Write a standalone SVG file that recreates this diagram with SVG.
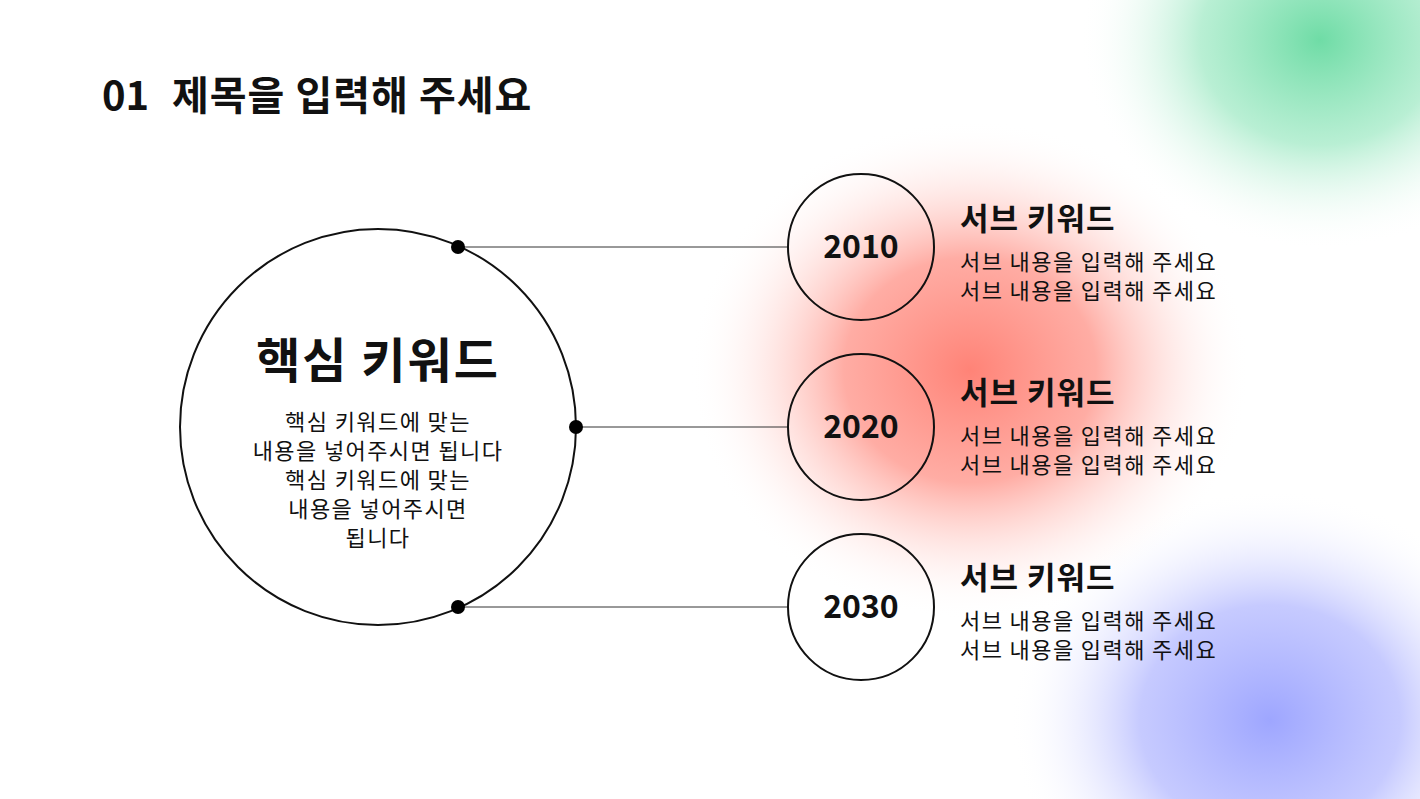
<svg xmlns="http://www.w3.org/2000/svg" width="1420" height="799" viewBox="0 0 1420 799">
<defs>
<radialGradient id="gG"><stop offset="0" stop-color="#6fdca6"/><stop offset="0.5" stop-color="#a7ebc9" stop-opacity="0.8"/><stop offset="1" stop-color="#fff" stop-opacity="0"/></radialGradient>
<radialGradient id="gR"><stop offset="0" stop-color="#ff8377"/><stop offset="0.45" stop-color="#ff9e94" stop-opacity="0.85"/><stop offset="1" stop-color="#fff" stop-opacity="0"/></radialGradient>
<radialGradient id="gB"><stop offset="0" stop-color="#9ea6ff"/><stop offset="0.5" stop-color="#b8bdff" stop-opacity="0.8"/><stop offset="1" stop-color="#fff" stop-opacity="0"/></radialGradient>
<style>
text{font-family:"Noto Sans CJK KR","Noto Sans",sans-serif;fill:#111}
.ring{fill:none;stroke:#111;stroke-width:2}
.yr{font-size:32px;font-weight:700;text-anchor:middle}
.sub{font-size:31px;font-weight:700;letter-spacing:1px}
.desc{font-size:22px;letter-spacing:1.4px}
.line{stroke:#333;stroke-width:1}
</style>
</defs>
<rect width="1420" height="799" fill="#fff"/>
<ellipse cx="1320" cy="40" rx="240" ry="210" fill="url(#gG)"/>
<ellipse cx="1270" cy="720" rx="260" ry="230" fill="url(#gB)"/>
<ellipse cx="970" cy="370" rx="280" ry="250" fill="url(#gR)"/>
<text x="102" y="110" style="font-size:40px;font-weight:700">01</text>
<text x="172" y="110" style="font-size:40px;font-weight:700;letter-spacing:1px">제목을 입력해 주세요</text>
<g id="connectors">
<line class="line" x1="458" y1="247" x2="788" y2="247"/>
<line class="line" x1="576" y1="427" x2="788" y2="427"/>
<line class="line" x1="458" y1="607" x2="788" y2="607"/>
</g>
<g id="main">
<circle class="ring" cx="378" cy="427" r="198"/>
<text x="378" y="378" text-anchor="middle" style="font-size:48px;font-weight:700;letter-spacing:2px">핵심 키워드</text>
<text class="desc" text-anchor="middle" x="378" y="430">핵심 키워드에 맞는</text>
<text class="desc" text-anchor="middle" x="378" y="459">내용을 넣어주시면 됩니다</text>
<text class="desc" text-anchor="middle" x="378" y="488">핵심 키워드에 맞는</text>
<text class="desc" text-anchor="middle" x="378" y="517">내용을 넣어주시면</text>
<text class="desc" text-anchor="middle" x="378" y="546">됩니다</text>
</g>
<g id="dots">
<circle cx="458" cy="247" r="7" fill="#000"/>
<circle cx="576" cy="427" r="7" fill="#000"/>
<circle cx="458" cy="607" r="7" fill="#000"/>
</g>
<g id="n2010"><circle class="ring" cx="861" cy="247" r="73"/><text class="yr" x="861" y="258">2010</text>
<text class="sub" x="960" y="230">서브 키워드</text><text class="desc" x="960" y="270">서브 내용을 입력해 주세요</text><text class="desc" x="960" y="299">서브 내용을 입력해 주세요</text></g>
<g id="n2020"><circle class="ring" cx="861" cy="427" r="73"/><text class="yr" x="861" y="438">2020</text>
<text class="sub" x="960" y="404">서브 키워드</text><text class="desc" x="960" y="444">서브 내용을 입력해 주세요</text><text class="desc" x="960" y="473">서브 내용을 입력해 주세요</text></g>
<g id="n2030"><circle class="ring" cx="861" cy="607" r="73"/><text class="yr" x="861" y="618">2030</text>
<text class="sub" x="960" y="589">서브 키워드</text><text class="desc" x="960" y="629">서브 내용을 입력해 주세요</text><text class="desc" x="960" y="658">서브 내용을 입력해 주세요</text></g>
</svg>
